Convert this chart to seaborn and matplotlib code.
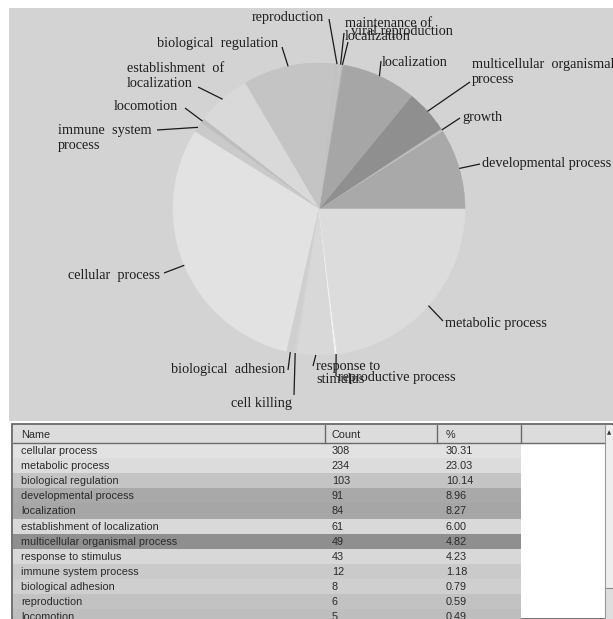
import numpy as np
import pandas as pd
import matplotlib
matplotlib.use("Agg")
import matplotlib.pyplot as plt
import seaborn as sns

# ---------------- data ----------------
pie_categories = [
    "developmental process", "growth", "multicellular organismal process",
    "localization", "maintenance of localization", "viral reproduction",
    "reproduction", "biological regulation", "establishment of localization",
    "locomotion", "immune system process", "cellular process",
    "biological adhesion", "cell killing", "response to stimulus",
    "reproductive process", "metabolic process",
]
pie_counts = [91, 3, 49, 84, 2, 2, 6, 103, 61, 5, 12, 308, 8, 3, 43, 2, 234]

table_columns = ["Name", "Count", "%"]
table_names = [
    "cellular process", "metabolic process", "biological regulation",
    "developmental process", "localization", "establishment of localization",
    "multicellular organismal process", "response to stimulus",
    "immune system process", "biological adhesion", "reproduction", "locomotion",
]
table_counts = [308, 234, 103, 91, 84, 61, 49, 43, 12, 8, 6, 5]
table_percents = ["30.31", "23.03", "10.14", "8.96", "8.27", "6.00",
                  "4.82", "4.23", "1.18", "0.79", "0.59", "0.49"]

# ---------------- styles ----------------
gray_of = {
    "developmental process": "#a9a9a9",
    "growth": "#bdbdbd",
    "multicellular organismal process": "#8f8f8f",
    "localization": "#a6a6a6",
    "maintenance of localization": "#b4b4b4",
    "viral reproduction": "#c6c6c6",
    "reproduction": "#c2c2c2",
    "biological regulation": "#c4c4c4",
    "establishment of localization": "#d9d9d9",
    "locomotion": "#bebebe",
    "immune system process": "#cacaca",
    "cellular process": "#e2e2e2",
    "biological adhesion": "#cfcfcf",
    "cell killing": "#d2d2d2",
    "response to stimulus": "#d8d8d8",
    "reproductive process": "#f6f6f6",
    "metabolic process": "#dcdcdc",
}

label_text = {
    "multicellular organismal process": "multicellular  organismal\nprocess",
    "maintenance of localization": "maintenance of\nlocalization",
    "establishment of localization": "establishment  of\nlocalization",
    "immune system process": "immune  system\nprocess",
    "response to stimulus": "response to\nstimulus",
    "biological regulation": "biological  regulation",
    "biological adhesion": "biological  adhesion",
    "cellular process": "cellular  process",
}
# text x, text y, ha, line-start x, line-start y, linespacing  (pixel layout)
label_layout = {
    "viral reproduction": (351, 32, "left", 344, 33, 1.2),
    "reproduction": (324, 17, "right", 329, 19, 1.2),
    "maintenance of localization": (345, 30, "left", 348, 42, 1.05),
    "biological regulation": (157, 44, "left", 282, 47, 1.2),
    "establishment of localization": (127, 76, "left", 198, 87, 1.15),
    "locomotion": (114, 107, "left", 185, 108, 1.2),
    "immune system process": (58, 138, "left", 157, 130, 1.15),
    "localization": (382, 62, "left", 381, 61, 1.2),
    "multicellular organismal process": (472, 72, "left", 470, 82, 1.15),
    "growth": (462, 117, "left", 460, 118, 1.2),
    "developmental process": (482, 163, "left", 480, 164, 1.2),
    "metabolic process": (445, 324, "left", 443, 321, 1.2),
    "cellular process": (160, 275, "right", 164, 273, 1.2),
    "biological adhesion": (285, 369, "right", 288, 370, 1.2),
    "cell killing": (292, 403, "right", 294, 395, 1.2),
    "response to stimulus": (316, 373, "left", 313, 366, 1.0),
    "reproductive process": (338, 378, "left", 336, 376, 1.2),
}

sns.set_theme(style="white")
plt.rcParams["font.family"] = ["Liberation Sans", "DejaVu Sans"]

W, H = 613, 619
fig = plt.figure(figsize=(W / 100, H / 100), dpi=100, facecolor="white")

bg = fig.add_axes([0, 0, 1, 1], zorder=0)
bg.set_xlim(0, W)
bg.set_ylim(H, 0)
bg.axis("off")

# chart panel
bg.add_patch(plt.Rectangle((9, 8), W - 9, 413, facecolor="#d3d3d3", edgecolor="none"))

# pie
cx, cy, R = 319, 209, 146
pie_ax = fig.add_axes([(cx - R) / W, (H - cy - R) / H, 2 * R / W, 2 * R / H], zorder=1)
wedges, _ = pie_ax.pie(pie_counts, colors=[gray_of[c] for c in pie_categories],
                       startangle=0, counterclock=True, radius=1.0,
                       wedgeprops=dict(linewidth=0))
for w in wedges:
    w.set_edgecolor(w.get_facecolor())
    w.set_linewidth(0.4)
pie_ax.set_xlim(-1, 1)
pie_ax.set_ylim(-1, 1)
pie_ax.set_aspect("auto")
pie_ax.axis("off")

ov = fig.add_axes([0, 0, 1, 1], zorder=2)
ov.set_xlim(0, W)
ov.set_ylim(H, 0)
ov.axis("off")
ov.patch.set_visible(False)

inv = ov.transData.inverted()
for cat in label_layout:
    i = pie_categories.index(cat)
    w = wedges[i]
    t = np.deg2rad((w.theta1 + w.theta2) / 2)
    ax_pt = pie_ax.transData.transform((np.cos(t), np.sin(t)))
    px, py = inv.transform(ax_pt)
    tx, ty, ha, lx, ly, ls = label_layout[cat]
    ov.plot([lx, px], [ly, py], color="#1a1a1a", lw=0.9, solid_capstyle="butt")
    ov.text(tx, ty, label_text.get(cat, cat), ha=ha, va="center",
            family=["Liberation Serif", "DejaVu Serif"], fontsize=10.3,
            color="#1e1e1e", linespacing=ls)

# ---------------- table ----------------
top = 424
hdr_h = 19
row_h = 15.1
col_x = [13, 325, 437, 521, 605]
text_x = [21, 332, 446]

bg.add_patch(plt.Rectangle((12, top), W - 12, H - top, facecolor="white",
                           edgecolor="#5a5a5a", lw=1.2))
bg.add_patch(plt.Rectangle((13, top + 1), 592, hdr_h - 1, facecolor="#dcdcdc",
                           edgecolor="none"))
bg.plot([13, 605], [top + hdr_h, top + hdr_h], color="#6a6a6a", lw=1.0)
for xdiv in col_x[1:4]:
    bg.plot([xdiv, xdiv], [top + 1, top + hdr_h], color="#6a6a6a", lw=1.0)
for name, x in zip(table_columns, text_x):
    bg.text(x, top + hdr_h / 2 + 1, name, ha="left", va="center",
            fontsize=7.8, color="#2a2a2a")

for i, (nm, ct, pc) in enumerate(zip(table_names, table_counts, table_percents)):
    y0 = top + hdr_h + i * row_h
    bg.add_patch(plt.Rectangle((13, y0), col_x[3] - 13, row_h,
                               facecolor=gray_of[nm], edgecolor="none"))
    yc = y0 + row_h / 2 + 0.5
    bg.text(text_x[0], yc, nm, ha="left", va="center", fontsize=7.8, color="#2a2a2a")
    bg.text(text_x[1], yc, str(ct), ha="left", va="center", fontsize=7.8, color="#2a2a2a")
    bg.text(text_x[2], yc, pc, ha="left", va="center", fontsize=7.8, color="#2a2a2a")

# scrollbar
bg.add_patch(plt.Rectangle((605, top + 1), 8, H - top, facecolor="#eeeeee", edgecolor="none"))
bg.plot([605, 605], [top + 1, H], color="#9a9a9a", lw=0.8)
bg.plot([606, 613], [588, 588], color="#8a8a8a", lw=0.8)
bg.add_patch(plt.Rectangle((606, 589), 7, H - 589, facecolor="#dedede", edgecolor="none"))
bg.text(609.5, top + 9, "\u25B2", ha="center", va="center", fontsize=4,
        color="#333333", family=["DejaVu Sans"])

fig.savefig("out.png", dpi=100, facecolor="white")
